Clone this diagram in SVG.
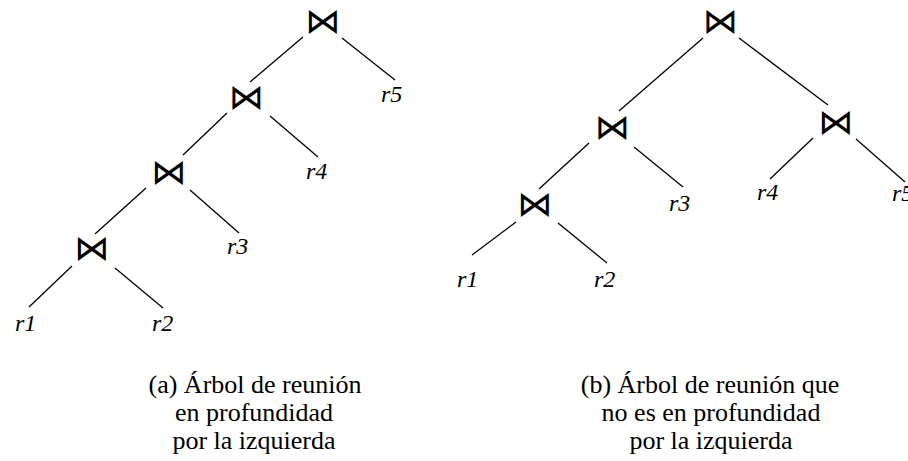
<svg xmlns="http://www.w3.org/2000/svg" width="908" height="461" viewBox="0 0 908 461">
<style>
.bt{font-family:"DejaVu Sans",sans-serif;font-size:35px;text-anchor:middle;fill:#000}
.lf{font-family:"Liberation Serif",serif;font-style:italic;font-size:24px;fill:#000}
.cap{font-family:"Liberation Serif",serif;font-size:26px;text-anchor:middle;fill:#000}
.ed line{stroke:#000;stroke-width:1.3}
</style>
<rect width="908" height="461" fill="#fff"/>
<g id="connectors" class="ed">
<line x1="303" y1="37" x2="250" y2="82"/>
<line x1="342" y1="38" x2="395" y2="80"/>
<line x1="227" y1="113" x2="183" y2="155"/>
<line x1="270" y1="116" x2="318" y2="157"/>
<line x1="146" y1="188" x2="95" y2="234"/>
<line x1="190" y1="190" x2="239" y2="233"/>
<line x1="72" y1="266" x2="29" y2="307"/>
<line x1="115" y1="268" x2="163" y2="308"/>
<line x1="703" y1="38" x2="619" y2="111"/>
<line x1="739" y1="38" x2="828" y2="105"/>
<line x1="589" y1="143" x2="539" y2="189"/>
<line x1="634" y1="147" x2="683" y2="187"/>
<line x1="813" y1="138" x2="770" y2="179"/>
<line x1="856" y1="139" x2="905" y2="182"/>
<line x1="516" y1="222" x2="472" y2="255"/>
<line x1="558" y1="223" x2="607" y2="263"/>
</g>
<g id="a-join1"><text class="bt" x="322.5" y="33">⋈</text></g>
<g id="a-join2"><text class="bt" x="246" y="109.3">⋈</text></g>
<g id="a-join3"><text class="bt" x="168.5" y="184.3">⋈</text></g>
<g id="a-join4"><text class="bt" x="91.5" y="260.3">⋈</text></g>
<g id="a-r5"><text class="lf" x="381" y="102">r5</text></g>
<g id="a-r4"><text class="lf" x="306" y="179">r4</text></g>
<g id="a-r3"><text class="lf" x="227" y="254">r3</text></g>
<g id="a-r1"><text class="lf" x="15" y="331">r1</text></g>
<g id="a-r2"><text class="lf" x="152" y="331">r2</text></g>
<g id="b-join1"><text class="bt" x="720" y="33">⋈</text></g>
<g id="b-join2"><text class="bt" x="612" y="138.8">⋈</text></g>
<g id="b-join3"><text class="bt" x="835.5" y="133.8">⋈</text></g>
<g id="b-join4"><text class="bt" x="534.5" y="215.8">⋈</text></g>
<g id="b-r1"><text class="lf" x="457" y="287">r1</text></g>
<g id="b-r2"><text class="lf" x="594" y="287">r2</text></g>
<g id="b-r3"><text class="lf" x="669" y="211">r3</text></g>
<g id="b-r4"><text class="lf" x="757" y="200">r4</text></g>
<g id="b-r5"><text class="lf" x="892" y="201">r5</text></g>
<g id="caption-a">
<text class="cap" x="255" y="393">(a) Árbol de reunión</text>
<text class="cap" x="254" y="421">en profundidad</text>
<text class="cap" x="254" y="449">por la izquierda</text>
</g>
<g id="caption-b">
<text class="cap" x="710" y="393">(b) Árbol de reunión que</text>
<text class="cap" x="711" y="421">no es en profundidad</text>
<text class="cap" x="711" y="449">por la izquierda</text>
</g>
</svg>
